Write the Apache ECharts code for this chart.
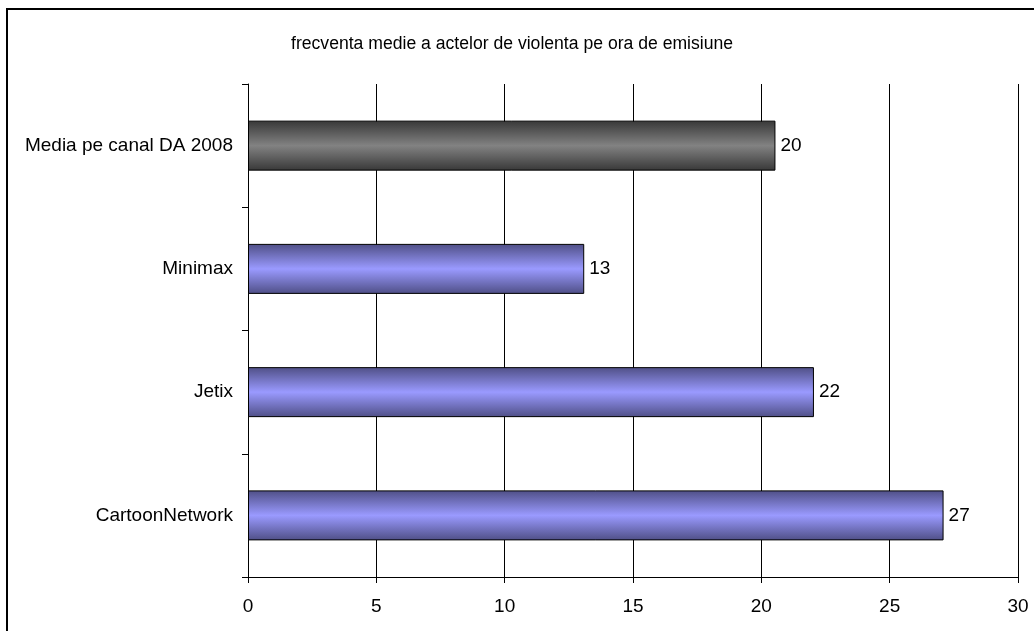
<!DOCTYPE html>
<html>
<head>
<meta charset="utf-8">
<script src="https://cdn.jsdelivr.net/npm/echarts@6/dist/echarts.min.js"></script>
<style>
html,body{margin:0;padding:0;background:#fff;}
#main{width:1034px;height:631px;}
</style>
</head>
<body>
<div id="main"></div>
<script>
//date grafic
var titlu='frecventa medie a actelor de violenta pe ora de emisiune';
var canale=['CartoonNetwork','Jetix','Minimax','Media pe canal DA 2008'];
var valori=[27.1,22.05,13.1,20.55];
var etichete=['27','22','13','20'];
var axaX=[0,5,10,15,20,25,30];

//culori bare
function grad(dark,light){
    return new echarts.graphic.LinearGradient(0,0,0,1,[
        {offset:0,color:dark},
        {offset:0.5,color:light},
        {offset:1,color:dark}
    ]);
}
var albastru=grad('#4f4f86','#9a9aff');
var gri=grad('#383838','#828282');

var data=[];
for(var i=0;i<valori.length;i++){
    data.push({
        value:valori[i],
        itemStyle:{color:canale[i]=='Media pe canal DA 2008' ? gri : albastru}
    });
}

var font='"Liberation Sans", Arial, sans-serif';
var myChart=echarts.init(document.getElementById('main'));
var option={
    backgroundColor:'#fff',
    animation:false,
    title:{
        text:titlu,
        left:286,
        top:30,
        textStyle:{fontFamily:font,fontSize:17.6,fontWeight:'normal',color:'#000'}
    },
    graphic:[{
        type:'rect',
        shape:{x:7,y:9,width:1060,height:660},
        style:{fill:'none',stroke:'#000',lineWidth:2},
        silent:true
    }],
    grid:{left:248,top:84,right:16,bottom:54,containLabel:false},
    xAxis:{
        type:'value',
        min:axaX[0],
        max:axaX[axaX.length-1],
        interval:axaX[1]-axaX[0],
        axisLine:{show:true,lineStyle:{color:'#000',width:1}},
        axisTick:{show:true,length:6,lineStyle:{color:'#000'}},
        axisLabel:{margin:20,fontFamily:font,fontSize:19,color:'#000'},
        splitLine:{show:true,lineStyle:{color:'#000',width:1}}
    },
    yAxis:{
        type:'category',
        data:canale,
        axisLine:{show:true,lineStyle:{color:'#000',width:1}},
        axisTick:{show:true,length:6,lineStyle:{color:'#000'}},
        axisLabel:{margin:15,fontFamily:font,fontSize:19,color:'#000'},
        splitLine:{show:false}
    },
    series:[{
        type:'bar',
        data:data,
        barWidth:50,
        itemStyle:{borderColor:'#000',borderWidth:1},
        label:{
            show:true,
            position:'right',
            distance:5,
            fontFamily:font,
            fontSize:19,
            color:'#000',
            formatter:function(p){return etichete[p.dataIndex];}
        }
    }]
};
myChart.setOption(option);
</script>
</body>
</html>
